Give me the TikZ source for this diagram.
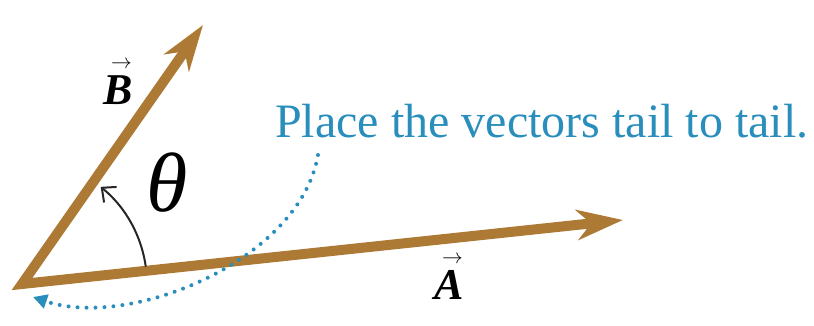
\documentclass[tikz,border=0pt]{standalone}
\usepackage{fontspec}
\setmainfont{Liberation Serif}
\usetikzlibrary{arrows.meta}

\definecolor{vecbrown}{RGB}{172,122,52}
\definecolor{hintblue}{RGB}{41,142,188}

\newcommand{\veclab}[1]{\shortstack{\hspace*{7pt}{\fontsize{22}{22}\selectfont$\rightarrow$}\\[4pt]{\bfseries\itshape #1}}}

\begin{document}
\begin{tikzpicture}[
  x=1pt,
  y=1pt,
  vec/.style={vecbrown, line width=10pt, line join=miter,
    {Stealth[length=46pt,width=30pt,inset=14pt]}-{Stealth[length=46pt,width=30pt,inset=14pt]}},
  anglearc/.style={black!85, line width=2pt, -{Straight Barb[length=11pt,width=20pt]}},
  hint/.style={hintblue, line width=4pt, line cap=round, dash pattern=on 0pt off 9pt,
    -{Triangle[length=14pt,width=14pt]}},
  veclabel/.style={font=\fontsize{44}{46}\selectfont, inner sep=0pt}
]

% Frame
\useasboundingbox (-22,-41) rectangle (792,284);

% Tail and tips
\coordinate (tail) at (0,0);
\coordinate (tipA) at (601,64);
\coordinate (tipB) at (181,259);

% The two vectors, tail to tail
\draw[vec] (tipB) -- (tail) -- (tipA);

% Angle between them
\coordinate (arcstart) at (8:125);
\draw[anglearc] (arcstart) arc[start angle=8, end angle=51, radius=125];
\node[font=\fontsize{84}{86}\selectfont\itshape, inner sep=0pt] (theta) at (145,101) {θ};

% Vector names
\node[veclabel] (labB) at (96,201) {\veclab{B}};
\node[veclabel] (labA) at (427,6) {\veclab{A}};

% Hint
\node[hintblue, font=\fontsize{48}{50}\selectfont, anchor=base west, inner sep=0pt] (note) at (253,147) {Place the vectors tail to tail.};
\coordinate (hintstart) at (296,129);
\coordinate (hintend) at (11,-13);
\draw[hint] (hintstart) .. controls (278,24) and (108,-46) .. (hintend);

\end{tikzpicture}
\end{document}
